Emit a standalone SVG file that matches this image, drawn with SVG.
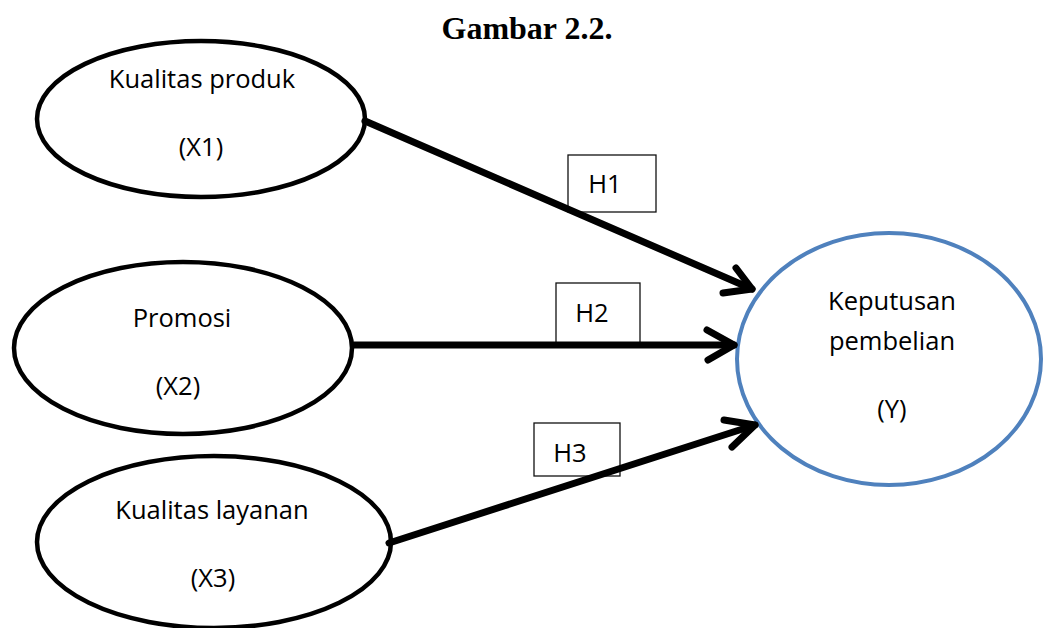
<svg xmlns="http://www.w3.org/2000/svg" width="1043" height="628" viewBox="0 0 1043 628">
<style>
.node{fill:#fff;stroke:#000;stroke-width:4.5}
.ynode{fill:#fff;stroke:#4F81BD;stroke-width:4}
.t{font-family:"Open Sans","Liberation Sans",sans-serif;font-size:25.5px;fill:#000;text-anchor:middle}
.title{font-family:"Liberation Serif",serif;font-weight:bold;font-size:32px;text-anchor:middle;fill:#000}
.box{fill:#fff;stroke:#111;stroke-width:1.3}
.edge{fill:none;stroke:#000;stroke-width:7;stroke-linecap:round;stroke-linejoin:round}
</style>
<rect width="1043" height="628" fill="#fff"/>
<text class="title" x="527" y="39">Gambar 2.2.</text>
<g id="x1">
<ellipse class="node" cx="201" cy="119" rx="164" ry="78"/>
<text class="t" x="202" y="88">Kualitas produk</text>
<text class="t" x="201" y="156">(X1)</text>
</g>
<g id="x2">
<ellipse class="node" cx="183" cy="348" rx="169" ry="86"/>
<text class="t" x="182" y="327">Promosi</text>
<text class="t" x="178" y="395">(X2)</text>
</g>
<g id="x3">
<ellipse class="node" cx="214" cy="542" rx="177" ry="86"/>
<text class="t" x="212" y="519">Kualitas layanan</text>
<text class="t" x="213" y="587">(X3)</text>
</g>
<g id="y">
<ellipse class="ynode" cx="889" cy="359" rx="152" ry="126"/>
<text class="t" x="892" y="310">Keputusan</text>
<text class="t" x="892" y="350">pembelian</text>
<text class="t" x="892" y="418">(Y)</text>
</g>
<g id="labels">
<g id="h1"><rect class="box" x="568" y="155" width="88" height="57"/><text class="t" x="605" y="193">H1</text></g>
<g id="h2"><rect class="box" x="556" y="283" width="84" height="60"/><text class="t" x="592" y="322">H2</text></g>
<g id="h3"><rect class="box" x="534" y="423" width="86" height="53"/><text class="t" x="570" y="462">H3</text></g>
</g>
<g id="connectors">
<path class="edge" d="M365 121 L752 289"/>
<path class="edge" d="M736 268 L752 289 L723 293"/>
<path class="edge" d="M354 345 L734 345"/>
<path class="edge" d="M707 330 L734 345 L708 360"/>
<path class="edge" d="M389 543 L755 425"/>
<path class="edge" d="M724 420 L755 425 L732 447"/>
</g>
</svg>
